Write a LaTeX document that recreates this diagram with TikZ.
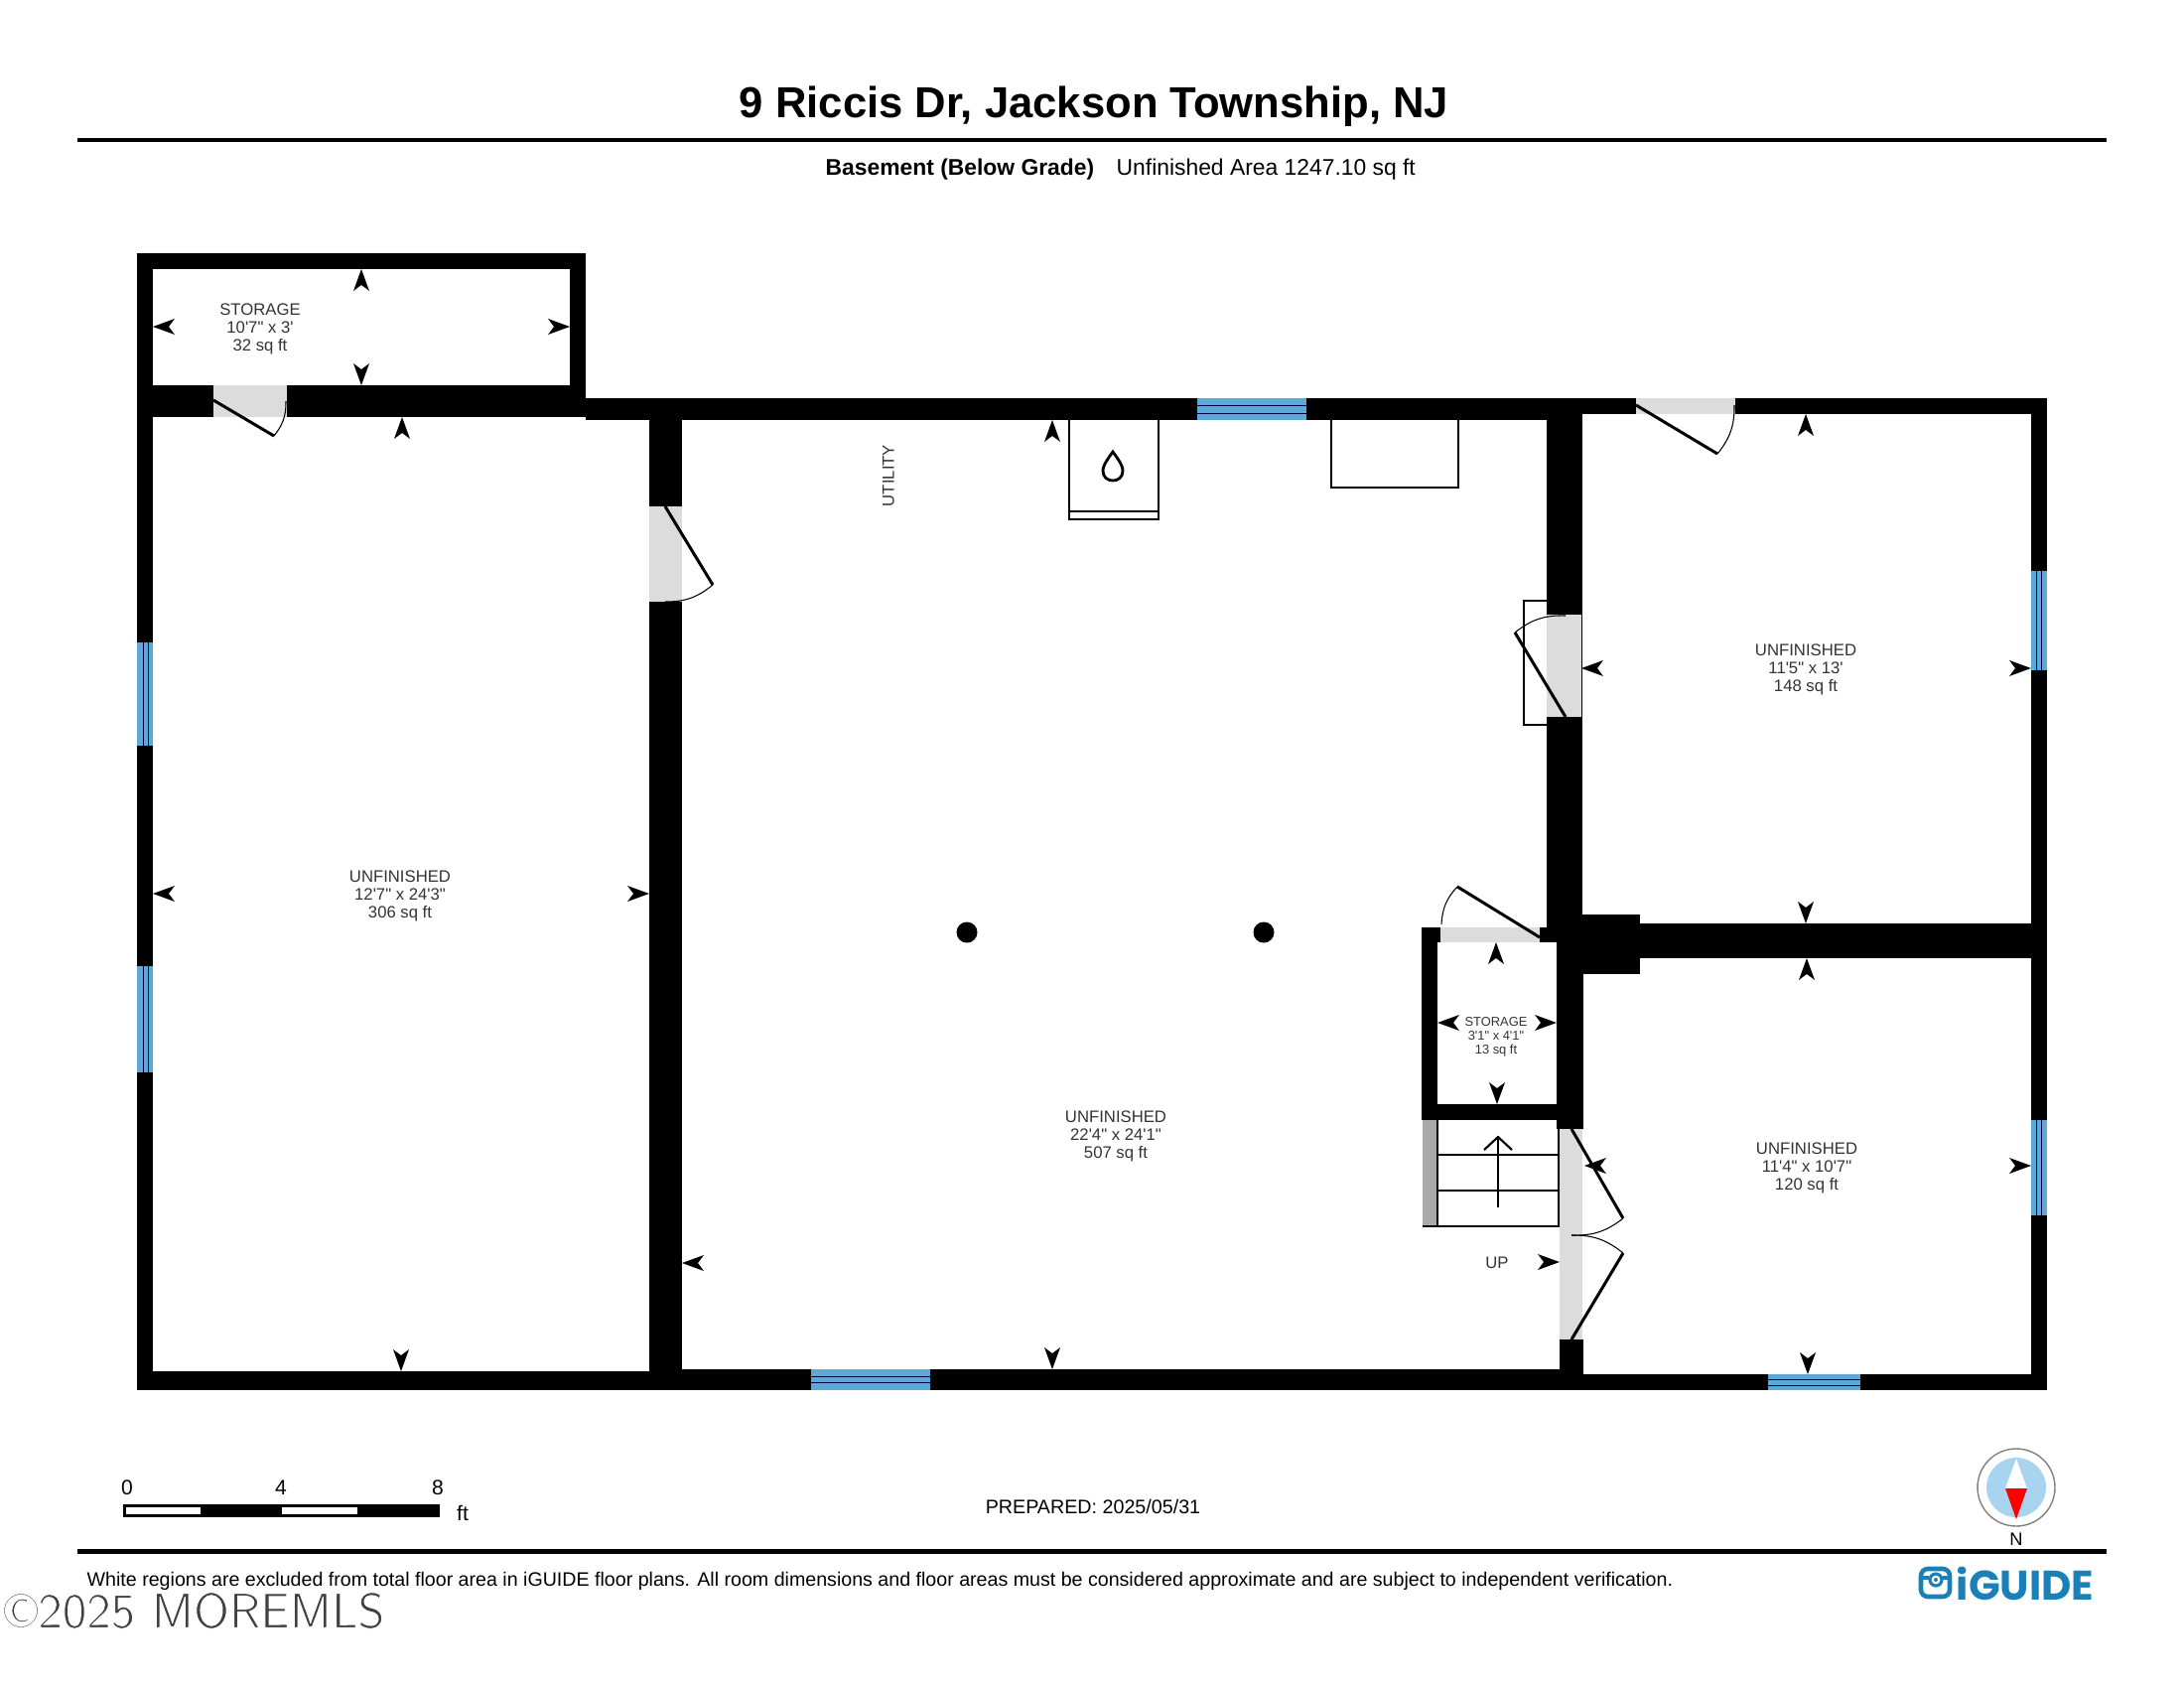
\documentclass[tikz,border=0pt]{standalone}
\usepackage{fontspec}
\setmainfont{Liberation Sans}[Ligatures=TeXOff]
\newfontfamily\logofont{Poppins}
\definecolor{windowblue}{HTML}{5AA9D6}
\definecolor{doorgray}{HTML}{DCDCDC}
\definecolor{stairgray}{HTML}{A9A9A9}
\definecolor{logoblue}{HTML}{1A81B8}
\definecolor{compassblue}{HTML}{A8D4F0}
\definecolor{labelgray}{HTML}{333333}
\tikzset{
  wall/.style={fill=black},
  doorway/.style={fill=doorgray},
  leaf/.style={draw=black, line width=.85pt},
  swing/.style={draw=black, line width=.3pt},
  pane/.style={fill=windowblue},
  paneline/.style={draw=black!70!blue, line width=.25pt},
  fixture/.style={draw=black, line width=.8pt},
  roomlabel/.style={inner sep=0, align=center, text=labelgray, font=\fontsize{4.75}{5.12}\selectfont},
  smalllabel/.style={inner sep=0, align=center, text=labelgray, font=\fontsize{3.67}{3.98}\selectfont},
  scalelabel/.style={inner sep=0, font=\fontsize{6}{7}\selectfont}
}
\newcommand{\dimtip}[3]{\fill[shift={(#1,#2)}, rotate=#3] (0,0) -- (22,-8) -- (16,0) -- (22,8) -- cycle;}
\begin{document}
\begin{tikzpicture}[x=.01cm, y=-.01cm]
   \useasboundingbox (0,0) rectangle (2200,1700);
   \node[inner sep=0, font=\bfseries\fontsize{12.4}{14}\selectfont] (title) at (1102,107) {9 Riccis Dr, Jackson Township, NJ};
   \fill (78,139) rectangle (2122,143);
   \node[inner sep=0, anchor=west, font=\bfseries\fontsize{6.5}{8}\selectfont] (level) at (831,171) {Basement (Below Grade)};
   \node[inner sep=0, anchor=west, font=\fontsize{6.5}{8}\selectfont] (area) at (1124,171) {Unfinished Area 1247.10 sq ft};
   % walls
   \fill[wall] (138,255) rectangle (590,271);
   \fill[wall] (138,255) rectangle (154,1400);
   \fill[wall] (574,255) rectangle (590,420);
   \fill[wall] (138,388) rectangle (590,420);
   \fill[wall] (590,401) rectangle (1558,423);
   \fill[wall] (1558,401) rectangle (2062,417);
   \fill[wall] (654,401) rectangle (687,1400);
   \fill[wall] (1558,401) rectangle (1594,949);
   \fill[wall] (1568,921) rectangle (1652,981);
   \fill[wall] (1652,930) rectangle (2062,965);
   \fill[wall] (1568,981) rectangle (1595,1137);
   \fill[wall] (2046,401) rectangle (2062,1400);
   \fill[wall] (138,1381) rectangle (654,1400);
   \fill[wall] (654,1379) rectangle (1595,1400);
   \fill[wall] (1595,1384) rectangle (2062,1400);
   \fill[wall] (1571,1349) rectangle (1595,1400);
   \fill[wall] (1432,934) rectangle (1448,1128);
   \fill[wall] (1432,934) rectangle (1451,949);
   \fill[wall] (1551,934) rectangle (1568,949);
   \fill[wall] (1432,1112) rectangle (1568,1128);
   % doors
   \fill[doorway] (215,388) rectangle (289,420);
   \draw[leaf] (215,403) -- (276,439);
   \draw[swing] (276,439) to[bend right=20] (288,404);
   \fill[doorway] (654,510) rectangle (687,606);
   \draw[leaf] (670,510) -- (718,589);
   \draw[swing] (718,589) to[bend left=20] (670,606);
   \fill[doorway] (1648,401) rectangle (1748,417);
   \draw[leaf] (1648,408) -- (1730,457);
   \draw[swing] (1730,457) to[bend right=20] (1747,408);
   \draw[line width=.6pt] (1558,605) -- (1535,605) -- (1535,730) -- (1558,730);
   \fill[doorway] (1558,619) rectangle (1593,722);
   \draw[leaf] (1577,722) -- (1526,637);
   \draw[swing] (1526,637) to[bend left=20] (1577,620);
   \fill[doorway] (1451,934) rectangle (1551,949);
   \draw[leaf] (1551,944) -- (1468,893);
   \draw[swing] (1468,893) to[bend right=20] (1452,931);
   \fill[doorway] (1571,1137) rectangle (1594,1349);
   \draw[leaf] (1583,1137) -- (1635,1227);
   \draw[swing] (1635,1227) to[bend left=20] (1583,1244);
   \draw[leaf] (1583,1349) -- (1635,1262);
   \draw[swing] (1635,1262) to[bend right=20] (1583,1244);
   % windows
   \foreach \ya/\yb in {647/751, 973/1080} {
     \fill[pane] (138,\ya) rectangle (154,\yb);
     \draw[paneline] (144,\ya) -- (144,\yb);
     \draw[paneline] (149,\ya) -- (149,\yb);
   }
   \foreach \ya/\yb in {575/675, 1128/1224} {
     \fill[pane] (2046,\ya) rectangle (2062,\yb);
     \draw[paneline] (2051,\ya) -- (2051,\yb);
     \draw[paneline] (2056,\ya) -- (2056,\yb);
   }
   \fill[pane] (1206,401) rectangle (1316,423);
   \draw[paneline] (1206,408) -- (1316,408);
   \draw[paneline] (1206,416) -- (1316,416);
   \fill[pane] (817,1379) rectangle (937,1400);
   \draw[paneline] (817,1386) -- (937,1386);
   \draw[paneline] (817,1392) -- (937,1392);
   \fill[pane] (1781,1384) rectangle (1874,1400);
   \draw[paneline] (1781,1389) -- (1874,1389);
   \draw[paneline] (1781,1395) -- (1874,1395);
   % stairs and fixtures
   \fill[stairgray] (1433,1128) rectangle (1448,1235);
   \draw[line width=.6pt] (1433,1235) -- (1570,1235) -- (1570,1128);
   \draw[line width=.6pt] (1448,1128) -- (1448,1235);
   \draw[line width=.6pt] (1448,1163) -- (1570,1163);
   \draw[line width=.6pt] (1448,1199) -- (1570,1199);
   \draw[line width=.6pt] (1509,1216) -- (1509,1145);
   \draw[line width=.6pt] (1495,1158) -- (1509,1145) -- (1523,1158);
   \draw[fixture] (1077,423) -- (1077,523) -- (1167,523) -- (1167,423);
   \draw[fixture] (1077,515) -- (1167,515);
   \draw[fixture] (1121,455) .. controls (1113,466) and (1111,470) .. (1111,474) .. controls (1111,481) and (1116,484) .. (1121,484) .. controls (1126,484) and (1131,481) .. (1131,474) .. controls (1131,470) and (1129,466) .. (1121,455) -- cycle;
   \draw[fixture] (1341,423) -- (1341,491) -- (1469,491) -- (1469,423);
   \fill (974,939) circle (10.5);
   \fill (1273,939) circle (10.5);
   % dimension marks
   \dimtip{364}{271}{-90}
   \dimtip{364}{388}{90}
   \dimtip{154}{329}{0}
   \dimtip{574}{329}{180}
   \dimtip{405}{420}{-90}
   \dimtip{404}{1381}{90}
   \dimtip{154}{900}{0}
   \dimtip{654}{900}{180}
   \dimtip{1060}{423}{-90}
   \dimtip{1060}{1379}{90}
   \dimtip{687}{1272}{0}
   \dimtip{1571}{1271}{180}
   \dimtip{1819}{417}{-90}
   \dimtip{1819}{930}{90}
   \dimtip{1593}{673}{0}
   \dimtip{2046}{673}{180}
   \dimtip{1820}{965}{-90}
   \dimtip{1821}{1384}{90}
   \dimtip{1596}{1174}{0}
   \dimtip{2046}{1174}{180}
   \dimtip{1507}{949}{-90}
   \dimtip{1508}{1112}{90}
   \dimtip{1448}{1030}{0}
   \dimtip{1568}{1030}{180}
   % room labels
   \node[roomlabel] (storagenorth) at (262,331.5) {STORAGE\\10'7" x 3'\\32 sq ft};
   \node[roomlabel] (unfinishedwest) at (403,902.5) {UNFINISHED\\12'7" x 24'3"\\306 sq ft};
   \node[roomlabel] (unfinishedmain) at (1124,1144.5) {UNFINISHED\\22'4" x 24'1"\\507 sq ft};
   \node[roomlabel] (unfinishednorth) at (1819,674.5) {UNFINISHED\\11'5" x 13'\\148 sq ft};
   \node[roomlabel] (unfinishedsouth) at (1820,1176.5) {UNFINISHED\\11'4" x 10'7"\\120 sq ft};
   \node[smalllabel] (storagesmall) at (1507,1044) {STORAGE\\3'1" x 4'1"\\13 sq ft};
   \node[roomlabel] (up) at (1508,1272) {UP};
   \node[roomlabel, rotate=90] (utility) at (895,479) {UTILITY};
   % scale bar
   \fill (124,1515) rectangle (443,1528);
   \fill[white] (127,1518) rectangle (202,1525);
   \fill[white] (284,1518) rectangle (360,1525);
   \node[scalelabel] (zero) at (128,1498.5) {0};
   \node[scalelabel] (four) at (283,1498.5) {4};
   \node[scalelabel] (eight) at (441,1498.5) {8};
   \node[scalelabel] (feet) at (466,1523.5) {ft};
   \node[inner sep=0, font=\fontsize{5.6}{7}\selectfont] (prepared) at (1101,1517) {PREPARED: 2025/05/31};
   % compass
   \draw[gray, line width=.4pt] (2031,1498) circle (39);
   \fill[compassblue] (2031,1498) circle (30);
   \fill[white] (2031,1469) -- (2042,1499) -- (2020,1499) -- cycle;
   \fill[red] (2020,1499) -- (2042,1499) -- (2031,1530) -- cycle;
   \node[inner sep=0, font=\fontsize{5.2}{6}\selectfont] (north) at (2031,1550) {N};
   % footer
   \fill (78,1560) rectangle (2122,1565);
   \node[inner sep=0, anchor=west, font=\fontsize{5.58}{7}\selectfont] (disclaimer) at (87,1592) {White regions are excluded from total floor area in iGUIDE floor plans. All room dimensions and floor areas must be considered approximate and are subject to independent verification.};
   \begin{scope}
     \clip (0,1600) rectangle (420,1640);
     \node[inner sep=0, anchor=west, text=black!75, font=\sffamily\fontsize{14.2}{16}\selectfont] (watermark) at (3,1622) {\special{pdf:code 2 Tr 0.3 w 1 1 1 RG}©2025 MOREMLS\special{pdf:code 0 Tr}};
   \end{scope}
   % logo
   \draw[logoblue, line width=1.3pt, rounded corners=2pt] (1935,1580) rectangle (1964,1608);
   \draw[logoblue, line width=1.1pt] (1935,1589) -- (1943,1589);
   \draw[logoblue, line width=1.1pt] (1957,1589) -- (1964,1589);
   \draw[logoblue, line width=.9pt] (1950,1591) circle (6);
   \fill[logoblue] (1950,1591) circle (2);
   \node[inner sep=0, anchor=west, text=logoblue, font=\logofont\bfseries\fontsize{11.85}{14}\selectfont] (logo) at (1970,1595) {iGUIDE};
\end{tikzpicture}
\end{document}
